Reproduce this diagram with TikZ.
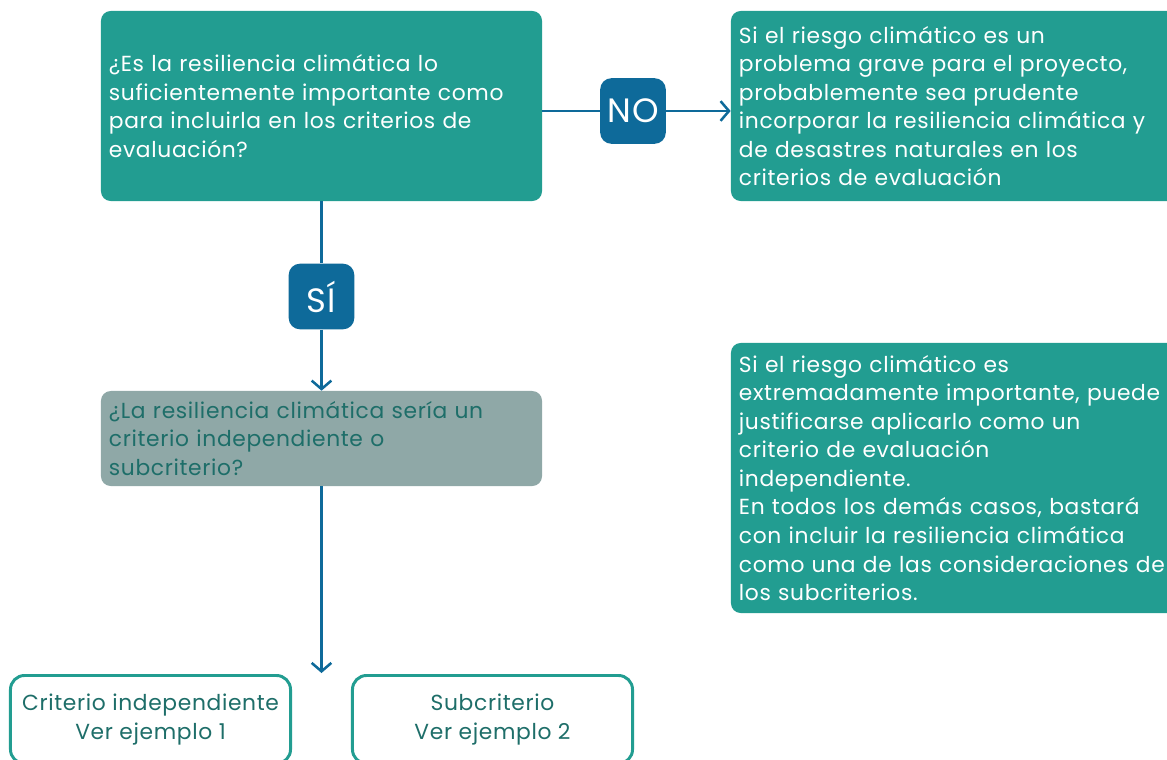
\documentclass[tikz,border=0pt]{standalone}
\usepackage{fontspec}
\setmainfont{Poppins}[LetterSpace=3]
\usetikzlibrary{arrows.meta}
\definecolor{verde}{HTML}{229D91}
\definecolor{azul}{HTML}{0E6A9A}
\definecolor{gris}{HTML}{8FA8A7}
\definecolor{oscuro}{HTML}{1E6E69}
\begin{document}
\begin{tikzpicture}[x=0.025cm,y=-0.025cm,
    caja/.style={rectangle,rounded corners=7pt,fill=verde,text=white,align=left,
      inner xsep=0.2cm,inner ysep=0pt,font=\fontsize{15.5}{20.3}\selectfont},
    marca/.style={rectangle,rounded corners=8pt,fill=azul,text=white,
      minimum size=1.64cm,inner sep=0pt,font=\fontsize{24}{24}\selectfont\addfontfeatures{LetterSpace=4}},
    opcion/.style={rectangle,rounded corners=10pt,draw=verde,line width=2.1pt,fill=white,
      text=oscuro,align=center,minimum width=7cm,minimum height=2.2cm,inner sep=0pt,
      font=\fontsize{15.5}{20.3}\selectfont},
    linea/.style={draw=azul,line width=1.8pt},
    flecha/.style={linea,-{Straight Barb[length=6pt,width=14pt,line width=1.8pt]}}]
    \clip (0,0) rectangle (1167,759);
    % preguntas
    \node[caja,minimum width=11.025cm,text width=10.625cm,minimum height=4.75cm] (aa) at (321.5,106)
      {¿Es la resiliencia climática lo\\suficientemente importante como\\para incluirla en los criterios de\\evaluación?};
    \node[caja,fill=gris,text=oscuro,minimum width=11.025cm,text width=10.625cm,minimum height=2.375cm] (ab) at (321.5,438.5)
      {¿La resiliencia climática sería un\\criterio independiente o\\subcriterio?};
    % respuestas
    \node[caja,minimum width=11.475cm,text width=11.075cm,minimum height=4.75cm] (ba) at (960.5,106)
      {Si el riesgo climático es un\\problema grave para el proyecto,\\probablemente sea prudente\\incorporar la resiliencia climática y\\de desastres naturales en los\\criterios de evaluación};
    \node[caja,minimum width=11.475cm,text width=11.075cm,minimum height=6.75cm] (bb) at (960.5,478)
      {Si el riesgo climático es\\extremadamente importante, puede\\justificarse aplicarlo como un\\criterio de evaluación\\independiente.\\En todos los demás casos, bastará\\con incluir la resiliencia climática\\como una de las consideraciones de\\los subcriterios.};
    % no / si
    \node[marca] (ca) at (633,111) {NO};
    \node[marca] (cb) at (321.5,296.5) {SÍ};
    % opciones
    \node[opcion] (da) at (150.5,719.5) {Criterio independiente\\Ver ejemplo 1};
    \node[opcion] (db) at (492.5,719.5) {Subcriterio\\Ver ejemplo 2};
    \coordinate (ea) at (321.5,673);
    % conectores
    \draw[linea] (aa.east |- ca) -- (ca.west);
    \draw[flecha] (ca.east) -- (ca.east -| ba.west);
    \draw[linea] (aa.south) -- (cb.north);
    \draw[flecha] (cb.south) -- (ab.north);
    \draw[flecha] (ab.south) -- (ea);
\end{tikzpicture}
\end{document}
